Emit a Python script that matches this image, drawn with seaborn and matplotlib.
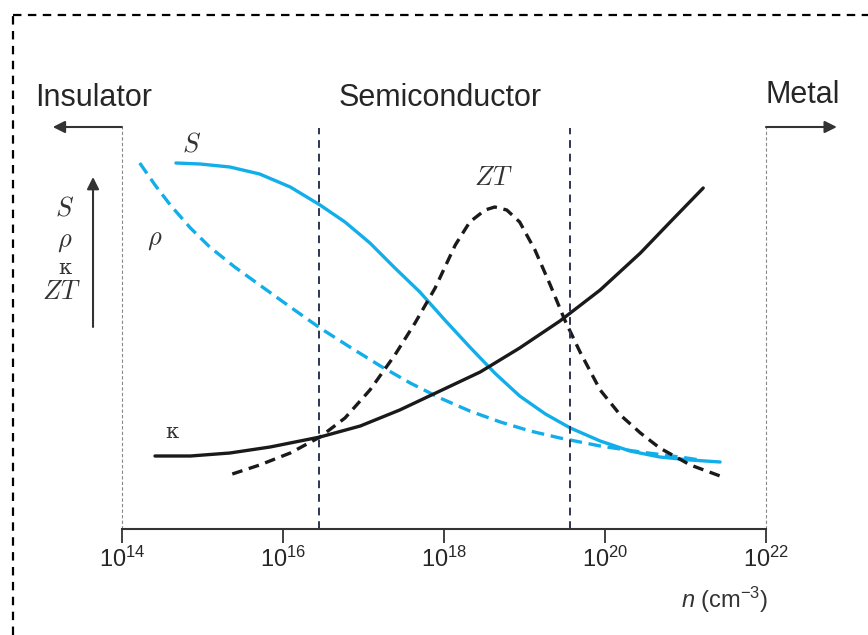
import matplotlib
matplotlib.use('Agg')
import matplotlib.pyplot as plt
from matplotlib.lines import Line2D
import numpy as np
import pandas as pd
import seaborn as sns

# --- Data (x = log10 of carrier density, y = relative magnitude, arbitrary units) ---
S_logn = [14.67, 14.97, 15.34, 15.71, 16.09, 16.46, 16.77, 17.08, 17.39, 17.70, 18.01,
          18.32, 18.63, 18.94, 19.26, 19.57, 19.94, 20.31, 20.68, 21.06, 21.43]
S_val = [366, 365, 362, 355, 342, 324, 307, 286, 261, 237, 209, 182, 156, 133, 115, 101,
         88, 78, 72, 69, 67]

RHO_logn = [14.22, 14.41, 14.60, 14.85, 15.09, 15.40, 15.71, 16.09, 16.46, 16.83, 17.21,
            17.58, 17.95, 18.32, 18.70, 19.07, 19.44, 19.94, 20.44, 20.93, 21.18]
RHO_val = [366, 344, 324, 301, 282, 262, 244, 222, 201, 182, 163, 146, 131, 118, 107, 98,
           91, 83, 77, 72, 69]

KAPPA_logn = [14.41, 14.85, 15.34, 15.84, 16.46, 16.96, 17.45, 17.95, 18.45, 18.94, 19.44,
              19.94, 20.44, 20.81, 21.22]
KAPPA_val = [73, 73, 76, 82, 92, 103, 119, 138, 157, 181, 208, 239, 276, 307, 341]

ZT_logn = [15.37, 15.71, 16.09, 16.46, 16.77, 17.08, 17.39, 17.64, 17.89, 18.14, 18.32,
           18.51, 18.63, 18.78, 18.94, 19.13, 19.32, 19.50, 19.69, 19.94, 20.19, 20.44,
           20.68, 21.06, 21.43]
ZT_val = [55, 64, 76, 92, 111, 139, 174, 206, 241, 284, 307, 319, 322, 319, 307, 279, 244,
          209, 177, 139, 114, 96, 81, 64, 53]

TICK_EXP = [14, 16, 18, 20, 22]
REGIME_BOUNDS = [16.45, 19.57]  # semiconductor window

BLUE = '#12aeea'
BLACK = '#1a1a1a'
NAVY = '#2e3552'

sns.set_theme(style='white')
plt.rcParams['font.family'] = ['Liberation Sans', 'DejaVu Sans']
plt.rcParams['mathtext.fontset'] = 'custom'
plt.rcParams['mathtext.rm'] = 'Liberation Sans'
plt.rcParams['mathtext.it'] = 'Liberation Sans:italic'

fig = plt.figure(figsize=(8.68, 6.35), dpi=100)
ax = fig.add_axes([122 / 868, 1 - 529 / 635, 644 / 868, 514 / 635])


def frame(logn, val, name):
    return pd.DataFrame({'n': 10.0 ** np.array(logn), 'v': val, 'q': name})


sns.lineplot(data=frame(S_logn, S_val, 'S'), x='n', y='v', ax=ax, color=BLUE,
             lw=2.4, sort=False, estimator=None)
sns.lineplot(data=frame(RHO_logn, RHO_val, 'rho'), x='n', y='v', ax=ax, color=BLUE,
             lw=2.4, sort=False, estimator=None, linestyle=(0, (3.8, 2.0)))
sns.lineplot(data=frame(KAPPA_logn, KAPPA_val, 'kappa'), x='n', y='v', ax=ax, color=BLACK,
             lw=2.4, sort=False, estimator=None)
sns.lineplot(data=frame(ZT_logn, ZT_val, 'ZT'), x='n', y='v', ax=ax, color=BLACK,
             lw=2.4, sort=False, estimator=None, linestyle=(0, (3.2, 2.0)))

ax.set_xscale('log')
ax.set_xlim(1e14, 1e22)
ax.set_ylim(0, 514)
ax.set_xticks([10.0 ** e for e in TICK_EXP])
ax.set_xticklabels([f'$10^{{{e}}}$' for e in TICK_EXP], fontsize=17)
ax.xaxis.set_minor_locator(matplotlib.ticker.NullLocator())
ax.set_yticks([])
ax.set_xlabel('')
ax.set_ylabel('')
ax.tick_params(axis='x', direction='out', length=10, width=1.3, color='#333333',
               pad=3, bottom=True)
for side in ['top', 'right', 'left']:
    ax.spines[side].set_visible(False)
ax.spines['bottom'].set_color('#333333')
ax.spines['bottom'].set_linewidth(1.5)

# regime boundaries
for b in REGIME_BOUNDS:
    ax.plot([10.0 ** b] * 2, [0, 401], color=NAVY, lw=1.4, linestyle=(0, (4, 3)))
for e in [14, 22]:
    ax.plot([10.0 ** e] * 2, [0, 402], color='#888888', lw=0.8, linestyle=(0, (3, 2)),
            clip_on=False)

arrow = dict(arrowstyle='-|>', color='#333333', lw=1.5, mutation_scale=18,
             shrinkA=0, shrinkB=0)
ax.annotate('', xy=(10 ** 13.14, 402), xytext=(1e14, 402), arrowprops=arrow,
            annotation_clip=False)
ax.annotate('', xy=(10 ** 22.88, 402), xytext=(1e22, 402), arrowprops=arrow,
            annotation_clip=False)
ax.annotate('', xy=(10 ** 13.64, 352), xytext=(10 ** 13.64, 202), arrowprops=arrow,
            annotation_clip=False)

ax.text(10 ** 12.92, 423, 'Insulator', fontsize=22, ha='left', va='baseline', clip_on=False)
ax.text(10 ** 17.95, 423, 'Semiconductor', fontsize=22, ha='center', va='baseline')
ax.text(1e22, 426, 'Metal', fontsize=22, ha='left', va='baseline', clip_on=False)

# axis quantity labels
mk = dict(fontsize=19, ha='center', va='center', color='#333333', math_fontfamily='cm',
          clip_on=False)
kp = dict(fontsize=15, ha='center', va='center', color='#333333', family='DejaVu Serif',
          clip_on=False)
ax.text(10 ** 13.29, 320, '$S$', **mk)
ax.text(10 ** 13.29, 287, r'$\rho$', **mk)
ax.text(10 ** 13.29, 261, 'κ', **kp)
ax.text(10 ** 13.25, 237, '$ZT$', **mk)

# curve labels
ax.text(10 ** 14.87, 384, '$S$', **mk)
ax.text(10 ** 14.41, 289, r'$\rho$', **mk)
ax.text(10 ** 14.62, 97, 'κ', **kp)
ax.text(10 ** 18.61, 351, '$ZT$', **mk)

fig.text(725 / 868, 1 - 600 / 635, '$n$ (cm$^{-3}$)', fontsize=17, ha='center',
         va='center', color='#333333')

# dashed frame around the figure
fig.add_artist(Line2D([13 / 868, 13 / 868], [0, 1 - 15 / 635], transform=fig.transFigure,
                      color='black', lw=1.6, linestyle=(0, (3.8, 2.9))))
fig.add_artist(Line2D([13 / 868, 1], [1 - 15 / 635, 1 - 15 / 635], transform=fig.transFigure,
                      color='black', lw=1.6, linestyle=(0, (3.8, 2.9))))

fig.savefig('out.png', dpi=100)
